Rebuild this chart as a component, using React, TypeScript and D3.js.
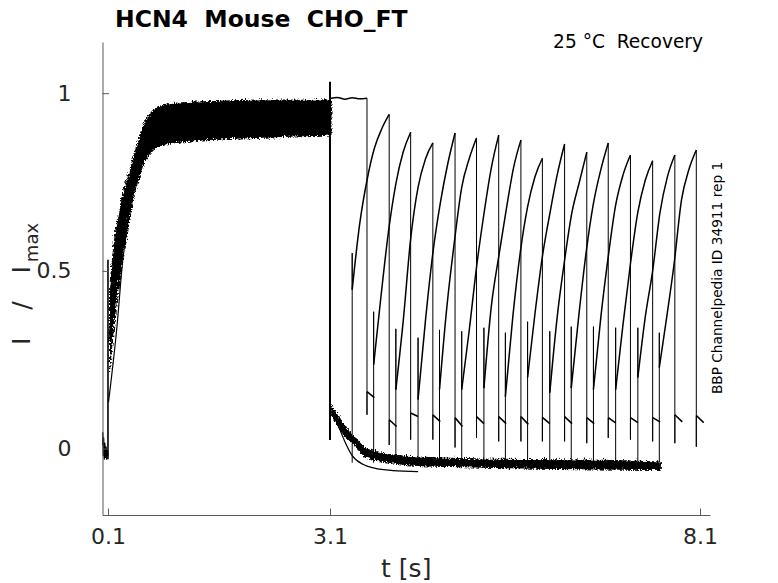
import React, { useRef, useEffect } from "react"
import * as d3 from "d3"

// axis limits and ticks
const xLimits = [0.026, 8.235]
const yLimits = [-0.187, 1.144]
const xTicks = [0.1, 3.1, 8.1]
const yTicks = [0, 0.5, 1]

// holding period before the 0.1 s step
const baselineT = [0.027, 0.031, 0.036, 0.042, 0.05, 0.058, 0.066, 0.074, 0.082, 0.09, 0.1]
const baselineV = [0.01, 0.045, -0.02, 0.03, -0.03, 0.015, -0.025, 0.005, -0.03, 0.0, -0.02]

// activation bundle (all sweeps overlap), upper / lower envelope
const bandT = [0.107, 0.19, 0.29, 0.4, 0.51, 0.6, 0.7, 0.83, 1.1, 1.6, 2.2, 2.7, 3.1]
const bandUpper = [0.45, 0.615, 0.72, 0.8, 0.88, 0.93, 0.955, 0.97, 0.976, 0.98, 0.984, 0.983, 0.984]
const bandLower = [0.22, 0.4, 0.55, 0.68, 0.77, 0.82, 0.845, 0.858, 0.866, 0.874, 0.879, 0.883, 0.885]

// two sweeps running apart from the bundle while rising
const slowT = [0.107, 0.22, 0.3, 0.357, 0.4, 0.49, 0.57, 0.76, 0.98]
const slowV = [0.13, 0.34, 0.53, 0.62, 0.69, 0.775, 0.82, 0.85, 0.865]
const midT = [0.107, 0.2, 0.28, 0.36, 0.45, 0.55, 0.7]
const midV = [0.3, 0.47, 0.6, 0.7, 0.78, 0.84, 0.87]

// deactivation tail bundle after 3.1 s
const tailT = [3.1, 3.26, 3.4, 3.57, 3.94, 4.38, 4.79, 5.67, 6.75, 7.55]
const tailUpper = [0.125, 0.075, 0.04, 0.005, -0.015, -0.022, -0.025, -0.028, -0.03, -0.035]
const tailLower = [0.1, 0.045, 0.015, -0.02, -0.038, -0.046, -0.048, -0.052, -0.055, -0.056]

// one sweep deactivating faster
const fastT = [3.1, 3.2, 3.3, 3.4, 3.55, 3.7, 3.95, 4.29]
const fastV = [0.11, 0.07, 0.02, -0.02, -0.045, -0.055, -0.062, -0.065]

// recovery test pulses
const testDuration = 0.5
const hookDuration = 0.1
const onsets = [3.1, 3.4, 3.69, 3.99, 4.29, 4.58, 4.88, 5.18, 5.47, 5.77, 6.07, 6.36, 6.66, 6.96, 7.26, 7.55]
const spikeTops = [1.03, 0.55, 0.385, 0.337, 0.312, 0.334, 0.33, 0.34, 0.326, 0.357, 0.33, 0.343, 0.343, 0.34, 0.34, 0.326]
const relT = [0, 0.1, 0.2, 0.3, 0.4, 0.5]
const testCurves = [
  [0.985, 0.988, 0.983, 0.987, 0.984, 0.986],
  [0.447, 0.63, 0.755, 0.845, 0.9, 0.94],
  [0.236, 0.43, 0.61, 0.745, 0.835, 0.89],
  [0.166, 0.36, 0.59, 0.735, 0.815, 0.86],
  [0.138, 0.36, 0.55, 0.69, 0.8, 0.888],
  [0.166, 0.4, 0.58, 0.735, 0.815, 0.874],
  [0.166, 0.33, 0.51, 0.66, 0.79, 0.882],
  [0.17, 0.4, 0.54, 0.67, 0.79, 0.868],
  [0.146, 0.37, 0.55, 0.68, 0.765, 0.817],
  [0.2, 0.38, 0.54, 0.66, 0.77, 0.857],
  [0.157, 0.37, 0.53, 0.665, 0.75, 0.834],
  [0.17, 0.37, 0.55, 0.69, 0.785, 0.86],
  [0.166, 0.37, 0.54, 0.685, 0.77, 0.826],
  [0.166, 0.35, 0.52, 0.665, 0.755, 0.81],
  [0.2, 0.37, 0.5, 0.665, 0.765, 0.826],
  [0.228, 0.37, 0.52, 0.7, 0.785, 0.84],
]
const dropBottoms = [0.095, 0.01, 0.025, 0.025, 0.003, 0.03, 0.02, 0.02, 0.02, 0.02, 0.015, 0.03, 0.025, 0.02, 0.015, 0.005]
const hookStarts = [0.16, 0.081, 0.1, 0.095, 0.087, 0.09, 0.09, 0.09, 0.088, 0.09, 0.087, 0.087, 0.087, 0.087, 0.095, 0.093]
const hookEnds = [0.143, 0.062, 0.09, 0.076, 0.062, 0.07, 0.07, 0.068, 0.07, 0.07, 0.07, 0.072, 0.073, 0.075, 0.075, 0.073]
const tailLevel = -0.04
const stepPeak = 1.032
const stepBottom = 0.024
const actSpikeTop = 0.53

const App: React.FC = () => {
  const width = 778
  const height = 583
  const margin = { left: 102.5, right: 710, top: 42, bottom: 515 }

  const axisRef = useRef<SVGGElement | null>(null)

  const x = d3.scaleLinear().domain(xLimits).range([margin.left, margin.right])
  const y = d3.scaleLinear().domain(yLimits).range([margin.bottom, margin.top])

  const straight = d3.line<[number, number]>().x(d => x(d[0])).y(d => y(d[1]))
  const smooth = d3.line<[number, number]>().x(d => x(d[0])).y(d => y(d[1])).curve(d3.curveMonotoneX)
  const band = d3.area<number>()
    .x((_, i) => x(bandT[i]))
    .y0((_, i) => y(bandLower[i]))
    .y1((_, i) => y(bandUpper[i]))
    .curve(d3.curveMonotoneX)
  const tail = d3.area<number>()
    .x((_, i) => x(tailT[i]))
    .y0((_, i) => y(tailLower[i]))
    .y1((_, i) => y(tailUpper[i]))
    .curve(d3.curveMonotoneX)

  const zip = (ts: number[], vs: number[]) => ts.map((t, i) => [t, vs[i]] as [number, number])

  useEffect(() => {
    if (!axisRef.current) return
    const g = d3.select(axisRef.current)
    g.selectAll("*").remove()

    const xAxis = g.append("g").attr("transform", `translate(0, ${margin.bottom})`)
      .call(d3.axisBottom(x).tickValues(xTicks).tickSizeInner(-6.5).tickSizeOuter(0).tickPadding(13).tickFormat(d3.format(".1f")))
    const yAxis = g.append("g").attr("transform", `translate(${margin.left}, 0)`)
      .call(d3.axisLeft(y).tickValues(yTicks).tickSizeInner(-6.5).tickSizeOuter(0).tickPadding(31).tickFormat(d => `${d}`))

    for (const ax of [xAxis, yAxis]) {
      ax.select(".domain").attr("stroke", "#595959").attr("stroke-width", 1)
      ax.selectAll(".tick line").attr("stroke", "#595959").attr("stroke-width", 1)
      ax.selectAll(".tick text")
        .attr("fill", "#262626")
        .attr("font-size", 22)
        .attr("font-family", "DejaVu Sans")
    }
  }, [])

  return (
    <svg width={width} height={height} style={{ position: "absolute", left: 0, top: 0, background: "#fff" }}
      fontFamily="DejaVu Sans">
      <defs>
        {/* recording noise look on the dense bundles */}
        <filter id="jitter" x="-5%" y="-20%" width="110%" height="140%">
          <feTurbulence type="turbulence" baseFrequency="0.9 0.35" numOctaves={2} seed={3} result="n" />
          <feDisplacementMap in="SourceGraphic" in2="n" scale={5} xChannelSelector="R" yChannelSelector="G" />
        </filter>
      </defs>

      <g className="traces" fill="none" stroke="#000" strokeLinejoin="round">
        {/* holding + activation step */}
        <path d={straight(zip(baselineT, baselineV)) ?? ""} strokeWidth={1.2} />
        <path d={straight([[0.1, -0.03], [0.1, actSpikeTop], [0.1, 0.3]]) ?? ""} strokeWidth={1.6} />
        <path d={band(bandT) ?? ""} fill="#000" stroke="#000" strokeWidth={1} filter="url(#jitter)" />
        <path d={smooth(zip(slowT, slowV)) ?? ""} strokeWidth={1.2} />
        <path d={smooth(zip(midT, midV)) ?? ""} strokeWidth={1.2} />

        {/* step at 3.1 s and tail */}
        <path d={straight([[3.1, stepPeak], [3.1, stepBottom]]) ?? ""} strokeWidth={2} />
        <path d={tail(tailT) ?? ""} fill="#000" stroke="#000" strokeWidth={1} filter="url(#jitter)" />
        <path d={smooth(zip(fastT, fastV)) ?? ""} strokeWidth={1.2} />

        {/* test pulses */}
        {onsets.map((o, i) => {
          const vals = testCurves[i]
          const end = o + testDuration
          const rise = i === 0 ? "" : straight([[o, tailLevel], [o, spikeTops[i]], [o, vals[0]]]) ?? ""
          const curve = smooth(relT.map((r, j) => [o + r, vals[j]] as [number, number])) ?? ""
          const drop = straight([[end, vals[vals.length - 1]], [end, dropBottoms[i]], [end, hookStarts[i]]]) ?? ""
          const hook = smooth([[end, hookStarts[i]], [end + hookDuration, hookEnds[i]]]) ?? ""
          return (
            <g key={i}>
              {rise && <path d={rise} strokeWidth={1} />}
              <path d={curve} strokeWidth={1.5} />
              <path d={drop} strokeWidth={1} />
              <path d={hook} strokeWidth={1.6} />
            </g>
          )
        })}
      </g>

      <g ref={axisRef} />

      <text x={115} y={27} fontSize={23.5} fontWeight="bold" fill="#000" style={{ whiteSpace: "pre" }}>
        {"HCN4  Mouse  CHO_FT"}
      </text>
      <text x={703} y={48} fontSize={18.6} textAnchor="end" fill="#000" style={{ whiteSpace: "pre" }}>
        {"25 °C  Recovery"}
      </text>
      <text transform="translate(722, 278) rotate(-90)" fontSize={13.7} textAnchor="middle" fill="#000">
        BBP Channelpedia ID 34911 rep 1
      </text>
      <text x={(margin.left + margin.right) / 2} y={577} fontSize={25} textAnchor="middle" fill="#262626">
        t [s]
      </text>
      <text transform="translate(30, 284) rotate(-90)" fontSize={25} textAnchor="middle" fill="#262626"
        style={{ whiteSpace: "pre" }}>
        <tspan letterSpacing={4}>{"I  /  I"}</tspan>
        <tspan fontSize={18} dy={8}>max</tspan>
      </text>
    </svg>
  )
}

export default App
